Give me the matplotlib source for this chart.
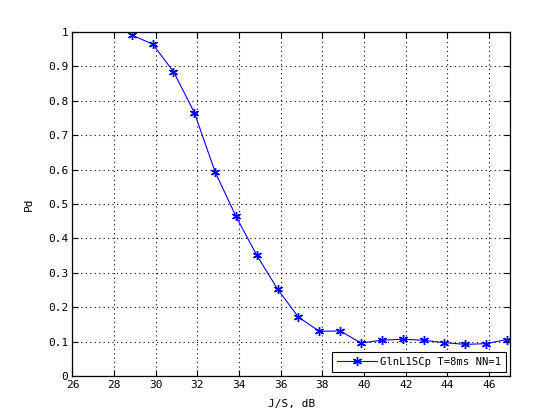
import matplotlib
matplotlib.use("Agg")
import matplotlib.pyplot as plt
import numpy as np

# J/S values (dB) and detection probability
js_db = [28.85, 29.85, 30.85, 31.85, 32.85, 33.85, 34.85, 35.85, 36.85, 37.85,
         38.85, 39.85, 40.85, 41.85, 42.85, 43.85, 44.85, 45.85, 46.85]
pd_vals = [0.991, 0.965, 0.885, 0.766, 0.593, 0.464, 0.351, 0.252, 0.171, 0.130,
           0.131, 0.096, 0.104, 0.107, 0.104, 0.097, 0.092, 0.094, 0.106]
series_label = "GlnL1SCp T=8ms NN=1"

x_ticks = list(range(26, 47, 2))
y_ticks = [0, 0.1, 0.2, 0.3, 0.4, 0.5, 0.6, 0.7, 0.8, 0.9, 1]
y_tick_labels = ["0", "0.1", "0.2", "0.3", "0.4", "0.5", "0.6", "0.7", "0.8", "0.9", "1"]

plt.rcParams['font.family'] = 'DejaVu Sans Mono'
plt.rcParams['font.size'] = 8

fig = plt.figure(figsize=(5.57, 4.19), dpi=100)
ax = fig.add_axes([0.13, 0.1026, 0.7856, 0.821])

# MATLAB-style asterisk marker
ax.plot(js_db, pd_vals, color=(0, 0, 1), linewidth=0.8, marker=(6, 2, 0),
        markersize=6.5, markeredgewidth=1.0, label=series_label)

ax.set_xlim(26, 47)
ax.set_ylim(0, 1)
ax.set_xticks(x_ticks)
ax.set_yticks(y_ticks)
ax.set_yticklabels(y_tick_labels)
ax.grid(True, color='black', linestyle=(0, (1, 3)), linewidth=0.8)
ax.tick_params(direction='in', top=True, right=True, length=4, width=0.8,
               labelsize=8, pad=3)
for s in ax.spines.values():
    s.set_linewidth(0.9)

ax.set_xlabel("J/S, dB", fontsize=8, labelpad=6)
ax.set_ylabel("Pd", fontsize=8, labelpad=10)

leg = ax.legend(loc='lower right', fontsize=7.6, fancybox=False, framealpha=1,
                edgecolor='black', borderaxespad=0.4, handlelength=3.8,
                handletextpad=0.3, borderpad=0.45)
leg.get_frame().set_linewidth(0.8)

fig.savefig("out.png", dpi=100, facecolor='white')
